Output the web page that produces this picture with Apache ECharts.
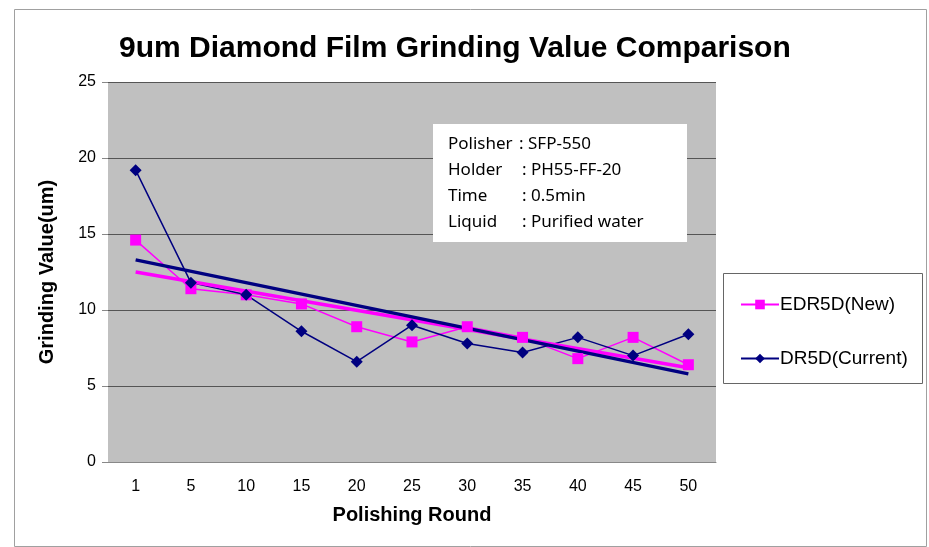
<!DOCTYPE html>
<html>
<head>
<meta charset="utf-8">
<script src="https://cdn.jsdelivr.net/npm/echarts@6/dist/echarts.min.js"></script>
<style>
  html, body { margin: 0; padding: 0; background: #fff; }
  #chart { width: 929px; height: 547px; }
</style>
</head>
<body>
<div id="chart"></div>
<script>
const rounds = ['1', '5', '10', '15', '20', '25', '30', '35', '40', '45', '50'];
const edrValues = [14.6, 11.4, 11.0, 10.4, 8.9, 7.9, 8.9, 8.2, 6.8, 8.2, 6.4];
const drValues = [19.2, 11.8, 11.0, 8.6, 6.6, 9.0, 7.8, 7.2, 8.2, 7.0, 8.4];
// trend line ends (first round, last round)
const edrTrend = [12.5, 6.2];
const drTrend = [13.3, 5.8];
const noteKeys = ['Polisher', 'Holder', 'Time', 'Liquid'];
const noteValues = [': SFP-550', ': PH55-FF-20', ': 0.5min', ': Purified water'];

const chart = echarts.init(document.getElementById('chart'));

const noteTexts = [];
noteKeys.forEach(function (k, i) {
  noteTexts.push({
    type: 'text', x: 448, y: 144 + i * 26, z: 11,
    style: { text: k, font: '17px "Noto Sans"', fill: '#000', verticalAlign: 'middle' }
  });
  noteTexts.push({
    type: 'text', x: i === 0 ? 519 : 522, y: 144 + i * 26, z: 11,
    style: { text: noteValues[i], font: '17px "Noto Sans"', fill: '#000', verticalAlign: 'middle' }
  });
});

function trendData(ends) {
  return [[rounds[0], ends[0]], [rounds[rounds.length - 1], ends[1]]];
}

const option = {
  animation: false,
  textStyle: { fontFamily: 'Arial, "Liberation Sans"' },
  title: {
    text: '9um Diamond Film Grinding Value Comparison',
    left: 114, top: 29,
    textStyle: { fontSize: 30, fontWeight: 'bold', color: '#000' }
  },
  grid: {
    left: 108, right: 213, top: 82, bottom: 85,
    show: true, backgroundColor: '#c0c0c0', borderWidth: 0
  },
  legend: {
    data: ['EDR5D(New)', 'DR5D(Current)'],
    orient: 'vertical',
    left: 735, top: 290,
    itemWidth: 38, itemHeight: 12, itemGap: 35,
    textStyle: { fontSize: 19, color: '#000', padding: [0, 0, 0, -4] }
  },
  xAxis: {
    type: 'category',
    data: rounds,
    name: 'Polishing Round',
    nameLocation: 'middle',
    nameGap: 43,
    nameTextStyle: { fontSize: 20, fontWeight: 'bold', color: '#000' },
    axisLine: { lineStyle: { color: '#888', width: 1 } },
    axisTick: { show: false },
    axisLabel: { fontSize: 16, color: '#000', margin: 17 }
  },
  yAxis: {
    type: 'value',
    min: 0, max: 25, interval: 5,
    name: 'Grinding Value(um)',
    nameLocation: 'middle',
    nameGap: 51,
    nameTextStyle: { fontSize: 20, fontWeight: 'bold', color: '#000' },
    axisLine: { show: false },
    axisTick: { show: true, length: 6, lineStyle: { color: '#888' } },
    axisLabel: { fontSize: 16, color: '#000', margin: 12 },
    splitLine: { lineStyle: { color: '#555', width: 1 } }
  },
  series: [
    {
      name: 'EDR5D(New)', type: 'line', data: edrValues,
      symbol: 'rect', symbolSize: 11,
      lineStyle: { color: '#ff00ff', width: 1.5 },
      itemStyle: { color: '#ff00ff' }
    },
    {
      name: 'DR5D(Current)', type: 'line', data: drValues,
      symbol: 'diamond', symbolSize: 12,
      lineStyle: { color: '#000080', width: 1.5 },
      itemStyle: { color: '#000080' }
    },
    {
      name: 'EDR5D trend', type: 'line', data: trendData(edrTrend),
      symbol: 'none', silent: true,
      lineStyle: { color: '#ff00ff', width: 3.5 }
    },
    {
      name: 'DR5D trend', type: 'line', data: trendData(drTrend),
      symbol: 'none', silent: true,
      lineStyle: { color: '#000080', width: 3.5 }
    }
  ],
  graphic: [
    {
      type: 'rect', left: 12, top: 7, z: -10,
      shape: { width: 912, height: 537 },
      style: { fill: 'none', stroke: '#a0a0a0', lineWidth: 1 }
    },
    {
      type: 'rect', left: 723, top: 273,
      shape: { width: 199, height: 110 },
      style: { fill: '#fff', stroke: '#666', lineWidth: 1 }, z: 0
    },
    {
      type: 'rect', left: 433, top: 124,
      shape: { width: 254, height: 118 },
      style: { fill: '#fff' }, z: 10
    }
  ].concat(noteTexts)
};

chart.setOption(option);
</script>
</body>
</html>
